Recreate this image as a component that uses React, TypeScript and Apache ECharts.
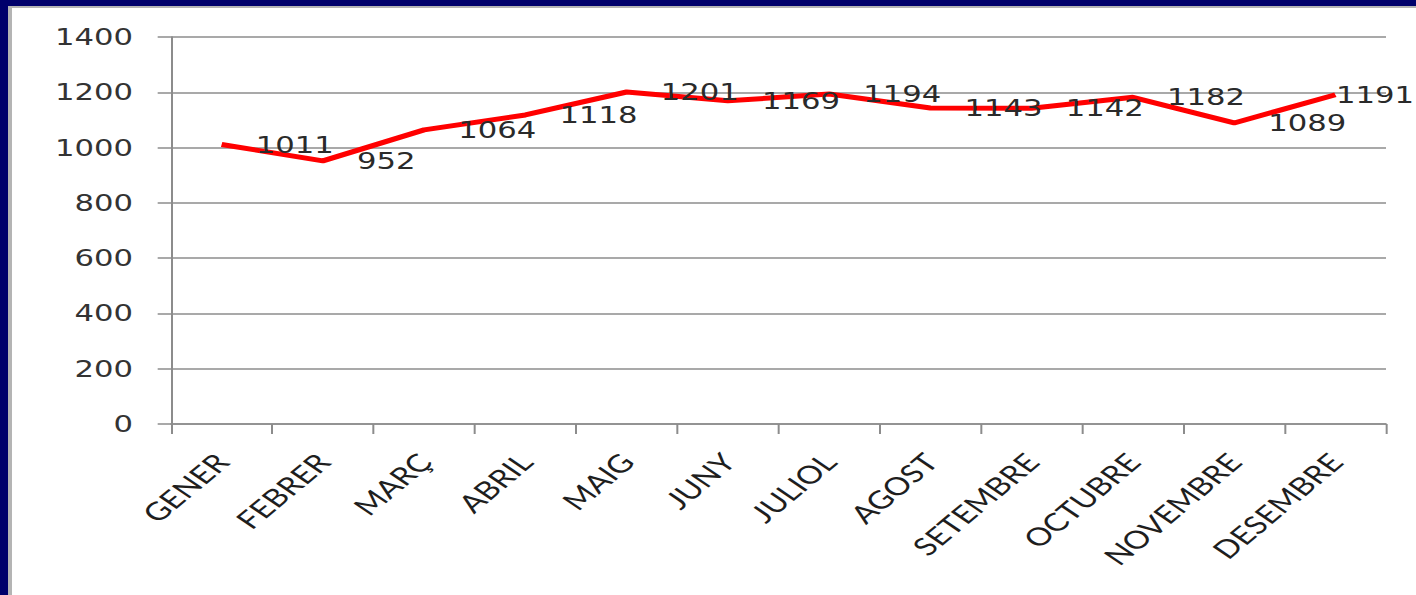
import React, { useEffect, useRef } from "react";
import * as echarts from "echarts";

const categories = [
  "GENER", "FEBRER", "MARÇ", "ABRIL", "MAIG", "JUNY",
  "JULIOL", "AGOST", "SETEMBRE", "OCTUBRE", "NOVEMBRE", "DESEMBRE",
];
const values = [1011, 952, 1064, 1118, 1201, 1169, 1194, 1143, 1142, 1182, 1089, 1191];
const yTicks = { min: 0, max: 1400, interval: 200 };

const PAGE_W = 1416;
const PAGE_H = 595;
const STRETCH = 4 / 3;
const CHART_W = PAGE_W / STRETCH;

export default function App() {
  const ref = useRef<HTMLDivElement>(null);

  useEffect(() => {
    document.body.style.margin = "0";
    if (!ref.current) return;
    const chart = echarts.init(ref.current, undefined, { renderer: "svg" });
    const last = values.length - 1;
    chart.setOption({
      animation: false,
      backgroundColor: "transparent",
      grid: { left: 128.25, right: CHART_W - 1039.5, top: 37, bottom: PAGE_H - 424, containLabel: false },
      xAxis: {
        type: "category",
        data: categories,
        boundaryGap: true,
        axisLine: { show: true, lineStyle: { color: "#8c8c8c", width: 1.5 } },
        axisTick: { show: true, alignWithLabel: false, length: 10, lineStyle: { color: "#8c8c8c", width: 1.5 } },
        axisLabel: {
          interval: 0,
          rotate: 48,
          margin: 33,
          fontFamily: "Lato",
          fontSize: 25,
          color: "#1e1e1e",
        },
        splitLine: { show: false },
      },
      yAxis: {
        type: "value",
        min: yTicks.min,
        max: yTicks.max,
        interval: yTicks.interval,
        axisLine: { show: true, lineStyle: { color: "#8c8c8c", width: 1.5 } },
        axisTick: { show: true, length: 10, lineStyle: { color: "#8c8c8c", width: 1.5 } },
        axisLabel: {
          margin: 28.5,
          fontFamily: "DejaVu Sans",
          fontSize: 23,
          color: "#333333",
          formatter: (v: number) => String(v),
        },
        splitLine: { show: true, lineStyle: { color: "#8c8c8c", width: 1.5 } },
      },
      series: [
        {
          type: "line",
          data: values.map((v, i) =>
            i === last ? { value: v, label: { distance: 0 } } : v
          ),
          showSymbol: true,
          symbol: "circle",
          symbolSize: 1,
          itemStyle: { color: "rgba(255,0,0,0)" },
          lineStyle: { color: "#ff0000", width: 5 },
          labelLayout: { hideOverlap: false },
          label: {
            show: true,
            position: "right",
            distance: 25,
            fontFamily: "DejaVu Sans",
            fontSize: 23,
            color: "#2a2a2a",
          },
          z: 3,
        },
      ],
    });
    return () => chart.dispose();
  }, []);

  return (
    <div style={{ position: "fixed", left: 0, top: 0, right: 0, bottom: 0, background: "#00006b", overflow: "hidden" }}>
      <div
        style={{
          position: "absolute",
          left: 8,
          top: 6,
          right: -40,
          bottom: -40,
          background: "#ffffff",
          borderLeft: "4px solid #b4b4b4",
          borderTop: "2px solid #b4b4b4",
        }}
      />
      <div
        ref={ref}
        style={{
          position: "absolute",
          left: 0,
          top: 0,
          width: CHART_W,
          height: PAGE_H,
          transform: `scaleX(${STRETCH})`,
          transformOrigin: "0 0",
        }}
      />
    </div>
  );
}
